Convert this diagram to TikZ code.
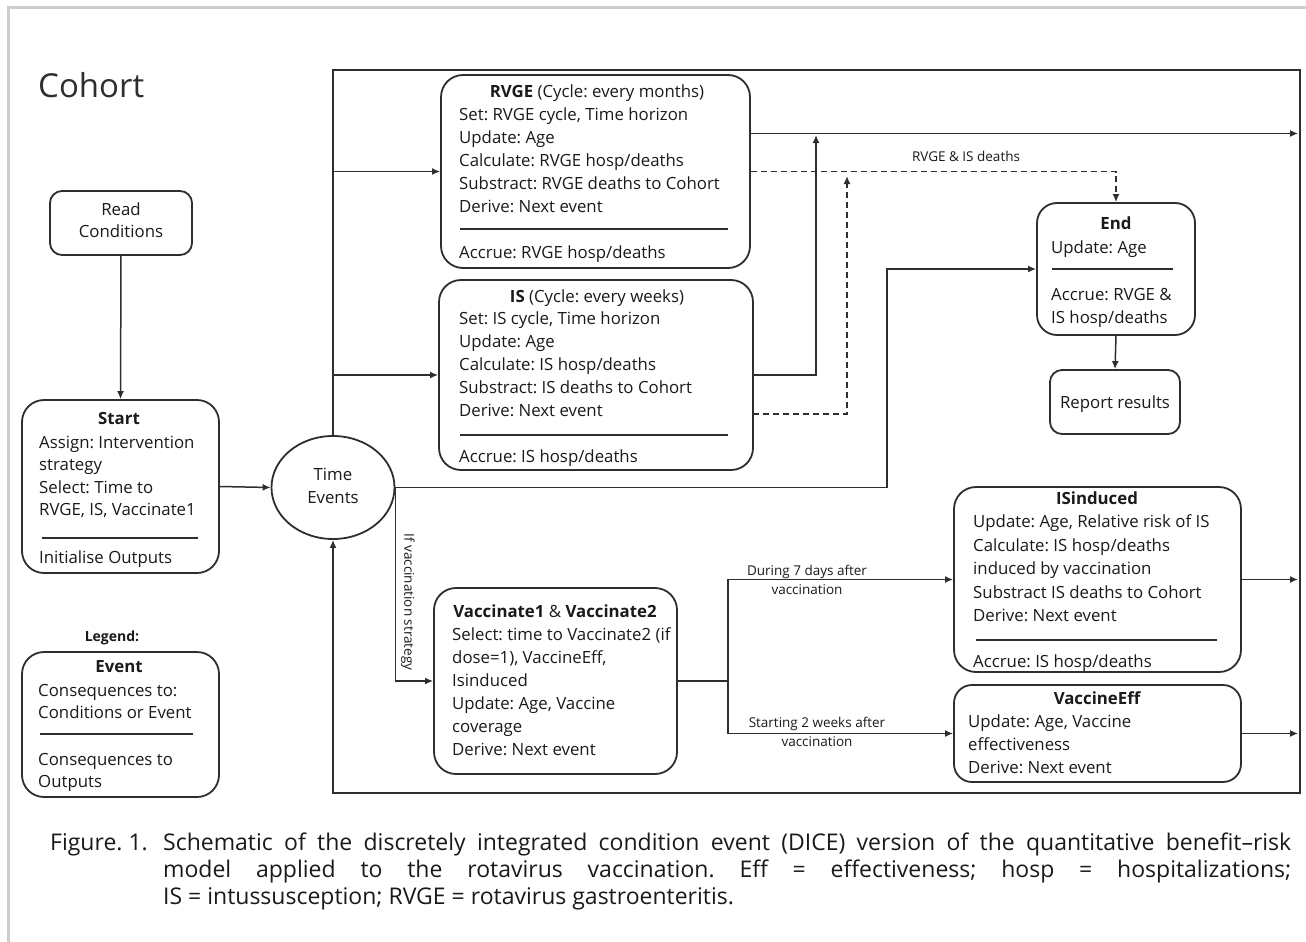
\documentclass[tikz,border=0pt]{standalone}
\usepackage{fontspec}
\setmainfont{Open Sans}
\newfontfamily\capfont{Open Sans}
\usetikzlibrary{arrows.meta,shapes.geometric}
\definecolor{ln}{HTML}{2E2E2E}
\definecolor{tx}{HTML}{1A1A1A}
\definecolor{frm}{HTML}{CDCDCD}
\frenchspacing
\begin{document}
\begin{tikzpicture}[x=1pt,y=-1pt,
  box/.style={draw=ln, line width=1.8pt, rounded corners=22pt, inner sep=0, anchor=center},
  sbox/.style={box, rounded corners=12pt},
  txt/.style={anchor=base west, inner sep=0, text=tx, font=\fontsize{16.8}{22}\selectfont},
  ctxt/.style={anchor=base, inner sep=0, text=tx, font=\fontsize{16.8}{22}\selectfont},
  lbl/.style={inner sep=0, text=tx, font=\fontsize{13.5}{19}\selectfont, align=center},
  captxt/.style={anchor=base west, inner sep=0, text=tx, font=\capfont\fontsize{23}{27}\selectfont},
  sepl/.style={draw=ln, line width=1.5pt},
  con/.style={draw=ln, line width=1.5pt},
  arr/.style={con, -{Latex[length=8pt,width=7pt]}},
  dsh/.style={arr, dashed, dash pattern=on 6pt off 4pt}]
\useasboundingbox (0,0) rectangle (1306,942);
\fill[white] (0,0) rectangle (1306,942);
\draw[frm, line width=3pt] (8,942) -- (8,8) -- (1306,8);

% title
\node[anchor=base west, inner sep=0, text=ln, font=\fontsize{33}{40}\selectfont] (cohort) at (38,97) {Cohort};

% loop coordinates
\coordinate (tl) at (333,70);
\coordinate (tr) at (1300,70);
\coordinate (br) at (1300,793);
\coordinate (bl) at (333,793);

% boxes
\node[sbox, minimum width=142, minimum height=64] (readc) at (121,223) {};
\node[box, minimum width=197, minimum height=173] (start) at (120.5,486.5) {};
\node[draw=ln, line width=1.8pt, ellipse, minimum width=123, minimum height=103, inner sep=0] (te) at (333,487.5) {};
\node[box, minimum width=309, minimum height=193] (rvge) at (595.5,171.5) {};
\node[box, minimum width=314, minimum height=190] (isb) at (596,375) {};
\node[box, rounded corners=20pt, minimum width=158, minimum height=132] (endb) at (1116,269) {};
\node[sbox, minimum width=130, minimum height=64] (report) at (1115,402) {};
\node[box, minimum width=243, minimum height=186] (vacc) at (555.5,681) {};
\node[box, minimum width=287, minimum height=185] (isind) at (1097.5,579.5) {};
\node[box, rounded corners=18pt, minimum width=287, minimum height=97] (veff) at (1097.5,733.5) {};
\node[box, minimum width=197, minimum height=145] (event) at (120.5,724.5) {};

% Read Conditions
\node[ctxt] (rc1) at (121,215.5) {Read};
\node[ctxt] (rc2) at (121,237.5) {Conditions};

% Start
\node[ctxt] (st0) at (119,424.5) {\bfseries Start};
\node[txt] (st1) at (39,448) {Assign: Intervention};
\node[txt] (st2) at (39,470.5) {strategy};
\node[txt] (st3) at (39,493) {Select: Time to};
\node[txt] (st4) at (39,515.5) {RVGE, IS, Vaccinate1};
\draw[sepl] (42,538) -- (198,538);
\node[txt] (st5) at (39,563.5) {Initialise Outputs};

% Time events
\node[ctxt] (te1) at (333,480.5) {Time};
\node[ctxt] (te2) at (333,503.5) {Events};

% RVGE
\node[ctxt] (rv0) at (597,97.5) {\bfseries RVGE\mdseries{} (Cycle: every months)};
\node[txt] (rv1) at (459,120.5) {Set: RVGE cycle, Time horizon};
\node[txt] (rv2) at (459,143.5) {Update: Age};
\node[txt] (rv3) at (459,166.5) {Calculate: RVGE hosp/deaths};
\node[txt] (rv4) at (459,189.5) {Substract: RVGE deaths to Cohort};
\node[txt] (rv5) at (459,212.5) {Derive: Next event};
\draw[sepl] (460,229) -- (728,229);
\node[txt] (rv6) at (459,258.5) {Accrue: RVGE hosp/deaths};

% IS
\node[ctxt] (is0) at (597,302.5) {\bfseries IS\mdseries{} (Cycle: every weeks)};
\node[txt] (is1) at (459,324.5) {Set: IS cycle, Time horizon};
\node[txt] (is2) at (459,347.5) {Update: Age};
\node[txt] (is3) at (459,370.5) {Calculate: IS hosp/deaths};
\node[txt] (is4) at (459,393.5) {Substract: IS deaths to Cohort};
\node[txt] (is5) at (459,416.5) {Derive: Next event};
\draw[sepl] (460,435) -- (728,435);
\node[txt] (is6) at (459,462.5) {Accrue: IS hosp/deaths};

% End
\node[ctxt] (en0) at (1116,229.5) {\bfseries End};
\node[txt] (en1) at (1051,253.5) {Update: Age};
\draw[sepl] (1052,269) -- (1173,269);
\node[txt] (en2) at (1051,300.5) {Accrue: RVGE \&};
\node[txt] (en3) at (1051,323.5) {IS hosp/deaths};

% Report
\node[ctxt] (rp) at (1115,408) {Report results};

% Vaccinate
\node[ctxt] (va0) at (555,617.5) {\bfseries Vaccinate1\mdseries{} \& \bfseries Vaccinate2};
\node[txt] (va1) at (452,640.5) {Select: time to Vaccinate2 (if};
\node[txt] (va2) at (452,663.5) {dose=1), VaccineEff,};
\node[txt] (va3) at (452,686.5) {Isinduced};
\node[txt] (va4) at (452,709.5) {Update: Age, Vaccine};
\node[txt] (va5) at (452,732.5) {coverage};
\node[txt] (va6) at (452,755.5) {Derive: Next event};

% ISinduced
\node[ctxt] (ii0) at (1097,504.5) {\bfseries ISinduced};
\node[txt] (ii1) at (973,527.5) {Update: Age, Relative risk of IS};
\node[txt] (ii2) at (973,551) {Calculate: IS hosp/deaths};
\node[txt] (ii3) at (973,574.5) {induced by vaccination};
\node[txt] (ii4) at (973,598) {Substract IS deaths to Cohort};
\node[txt] (ii5) at (973,621.5) {Derive: Next event};
\draw[sepl] (976,640) -- (1217,640);
\node[txt] (ii6) at (973,667.5) {Accrue: IS hosp/deaths};

% VaccineEff
\node[ctxt] (ve0) at (1097,704.5) {\bfseries VaccineEff};
\node[txt] (ve1) at (968,727.5) {Update: Age, Vaccine};
\node[txt] (ve2) at (968,750.5) {effectiveness};
\node[txt] (ve3) at (968,773.5) {Derive: Next event};

% Legend
\node[anchor=base, inner sep=0, text=tx, font=\fontsize{14}{18}\selectfont\bfseries] (leg) at (112,641) {Legend:};
\node[ctxt] (ev0) at (119,672.5) {\bfseries Event};
\node[txt] (ev1) at (38,696.5) {Consequences to:};
\node[txt] (ev2) at (38,718.5) {Conditions or Event};
\draw[sepl] (40,734) -- (193,734);
\node[txt] (ev3) at (38,765.5) {Consequences to};
\node[txt] (ev4) at (38,787.5) {Outputs};

% connectors
\draw[arr] (readc.south) -- (start.north);
\draw[arr] (start.east) -- (te.west);
\draw[arr] (te.north) -- (tl) -- (tr) -- (br) -- (bl) -- (te.south);
\draw[arr] (te.north |- rvge.west) -- (rvge.west);
\draw[arr] (te.north |- isb.west) -- (isb.west);

\coordinate (rvo) at (750,133.5);
\coordinate (rvt) at (1298,133.5);
\draw[arr] (rvo) -- (rvt);
\coordinate (j1) at (816,135);
\draw[arr] (isb.east) -- (j1 |- isb.east) -- (j1);

\draw[dsh] (rvge.east) -- (endb.north |- rvge.east) -- (endb.north);
\coordinate (iso) at (753,414);
\coordinate (j2) at (847,176);
\draw[dsh] (iso) -- (j2 |- iso) -- (j2);
\node[lbl] (dl) at (966,156) {RVGE \& IS deaths};

\coordinate (k1) at (887,0);
\draw[arr] (te.east) -- (k1 |- te.east) -- (k1 |- endb.west) -- (endb.west);
\draw[arr] (endb.south) -- (report.north);

\draw[arr] (te.east) -- (te.east |- vacc.west) -- (vacc.west);
\node[lbl, rotate=-90] (ivs) at (408,602) {If vaccination strategy};

\coordinate (s1) at (728,0);
\draw[arr] (vacc.east) -- (s1 |- vacc.east) -- (s1 |- isind.west) -- (isind.west);
\draw[arr] (s1 |- vacc.east) -- (s1 |- veff.west) -- (veff.west);
\node[lbl] (l7) at (807,580) {During 7 days after\\vaccination};
\node[lbl] (l2w) at (817,731.5) {Starting 2 weeks after\\vaccination};

\draw[arr] (isind.east) -- (isind.east -| rvt);
\draw[arr] (veff.east) -- (veff.east -| rvt);

% caption
\node[captxt] (figl) at (50,850) {Figure. 1.};
\node[captxt] (cap1) at (163,850) {\makebox[1128pt][s]{Schematic of the discretely integrated condition event (DICE) version of the quantitative benefit–risk}};
\node[captxt] (cap2) at (163,877) {\makebox[1128pt][s]{model applied to the rotavirus vaccination. Eff = effectiveness; hosp = hospitalizations;}};
\node[captxt] (cap3) at (163,904) {IS = intussusception; RVGE = rotavirus gastroenteritis.};
\end{tikzpicture}
\end{document}
